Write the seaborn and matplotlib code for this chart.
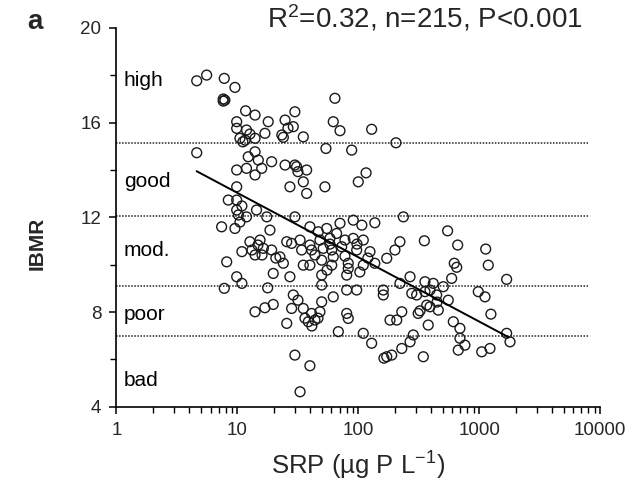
import matplotlib
matplotlib.use('Agg')
import matplotlib.pyplot as plt
import seaborn as sns
import pandas as pd
from matplotlib.ticker import FixedLocator, NullFormatter, LogLocator

# ---- data ----
srp = [
    4.61, 5.57, 7.79, 9.55, 7.64, 7.64, 7.89, 11.7, 14.0, 9.87, 18.0, 9.87, 11.9, 16.9, 24.8, 29.9,
    29.0, 23.3, 24.0, 10.5, 11.6, 14.0, 11.1, 4.61, 14.0, 12.3, 14.9, 19.2, 24.8, 29.9, 9.87, 11.9,
    15.9, 14.0, 9.87, 27.2, 31.7, 35.1,
    8.41, 9.87, 9.87, 11.9, 10.2, 14.4, 17.5, 29.9, 7.41, 9.55, 18.6, 12.7, 15.4, 16.4, 10.9, 14.0,
    19.2, 25.6, 28.1, 8.16, 22.5, 24.0, 19.8, 27.2, 9.87, 10.9, 7.79, 17.8, 29.0, 14.0, 16.9, 19.8,
    28.1, 25.6, 31.7,
    64.1, 62.1, 70.6, 129, 54.0, 88.2, 205, 30.9, 37.4, 35.1, 37.4, 53.0, 100, 116, 39.8, 46.7,
    70.6, 90.9, 107, 137, 54.8, 66.2,
    236, 33.0, 39.8, 48.2, 58.3, 77.6, 90.9, 110, 221, 34.0, 41.1, 51.3, 60.3, 72.9, 97.0, 125,
    201, 172, 35.1, 39.8, 49.8, 62.1, 82.6, 110, 137, 60.3, 49.8, 80.2, 82.6, 268, 221, 49.8,
    80.2, 97.0, 161, 161, 277, 49.8, 62.1, 35.1, 41.1, 48.2, 38.6, 43.8, 80.2, 82.6, 183, 208,
    229, 68.4, 110, 129,
    29.9, 39.8, 33.0, 172, 189, 163,
    548, 352, 664, 1132, 1189, 622, 652, 592, 1687, 356, 417, 505, 304, 356, 445, 983,
    1117, 555, 368, 392, 313, 459, 1250, 611, 379, 693, 285, 268, 693, 762, 671, 1050,
    1228, 1687, 1799, 345, 229, 324,
    46.4, 41.3, 36.2, 14.8, 13.2, 16.0, 10.5, 58.3, 97.5, 77.6, 120, 43.8, 448, 392, 10.9, 12.7,
    26.2, 55.1, 103, 20.8,
]
ibmr = [
    17.77, 18.01, 17.87, 17.49, 17.00, 16.91, 16.95, 16.50, 16.32, 16.04, 16.04, 15.76, 15.69, 15.55, 16.11, 16.46,
    15.83, 15.48, 15.38, 15.34, 15.26, 15.34, 15.19, 14.73, 14.77, 14.56, 14.42, 14.35, 14.21, 14.21, 14.00, 14.07,
    14.07, 13.79, 13.29, 13.29, 13.93, 15.40,
    12.73, 12.73, 12.31, 12.02, 12.10, 12.31, 12.02, 12.02, 11.60, 11.53, 11.46, 10.97, 11.04, 10.69, 10.55, 10.41,
    10.62, 10.97, 10.90, 10.12, 10.33, 10.06, 9.63, 9.49, 9.49, 9.21, 9.00, 9.02, 8.72, 8.01, 8.18, 8.32,
    8.15, 7.52, 8.50,
    17.03, 16.04, 15.66, 15.72, 14.91, 14.84, 15.15, 14.14, 14.00, 13.50, 13.01, 13.29, 13.50, 13.88, 11.60, 11.39,
    11.75, 11.88, 11.67, 11.77, 11.53, 11.32,
    12.02, 11.04, 10.83, 11.04, 11.11, 11.04, 11.11, 11.04, 10.97, 10.62, 10.62, 10.69, 10.62, 10.76, 10.62, 10.55,
    10.62, 10.27, 9.98, 9.98, 10.19, 10.33, 10.06, 9.98, 10.06, 9.98, 9.56, 9.56, 9.84, 9.49, 9.21, 9.14,
    8.93, 8.93, 8.93, 8.72, 8.79, 8.43, 8.64, 8.15, 7.94, 8.01, 7.59, 7.66, 7.94, 7.73, 7.66, 7.66,
    8.01, 7.17, 7.10, 6.68,
    6.18, 5.73, 4.63, 6.11, 6.18, 6.05,
    11.43, 11.01, 10.83, 10.66, 9.98, 10.06, 9.89, 9.42, 9.38, 9.28, 9.21, 9.07, 8.72, 8.86, 8.72, 8.86,
    8.64, 8.50, 8.29, 8.22, 7.94, 8.08, 7.91, 7.59, 7.45, 7.31, 7.03, 6.74, 6.89, 6.60, 6.39, 6.32,
    6.46, 7.10, 6.74, 6.11, 6.46, 8.05,
    7.74, 7.41, 7.74, 10.83, 10.62, 10.41, 11.80, 10.87, 10.87, 10.36, 10.28, 10.41, 8.42, 8.93, 12.48, 15.52,
    15.77, 9.77, 9.69, 10.28,
]
fit_srp = [4.6, 1730]
fit_ibmr = [13.95, 6.95]
class_limits = [15.15, 12.05, 9.1, 7.0]
class_names = ['high', 'good', 'mod.', 'poor', 'bad']
class_label_y = [17.8, 13.5, 10.6, 7.9, 5.1]
x_ticks = [1, 10, 100, 1000, 10000]
x_tick_labels = ['1', '10', '100', '1000', '10000']
y_ticks = [4, 8, 12, 16, 20]
y_minor = [6, 10, 14, 18]

sns.set_style('ticks')
plt.rcParams['font.family'] = ['Liberation Sans', 'DejaVu Sans']
plt.rcParams['mathtext.fontset'] = 'custom'
plt.rcParams['mathtext.rm'] = 'Liberation Sans'

fig = plt.figure(figsize=(6.33, 4.91), dpi=100)
ax = fig.add_axes([0.184, 0.1717, 0.764, 0.7713])

df = pd.DataFrame({'SRP': srp, 'IBMR': ibmr})
sns.scatterplot(data=df, x='SRP', y='IBMR', ax=ax, marker='o', s=50,
                facecolors='none', edgecolor='#1a1a1a', linewidth=1.0, zorder=3)
sns.lineplot(x=fit_srp, y=fit_ibmr, ax=ax, color='black', linewidth=1.4, zorder=4)

for yl in class_limits:
    ax.plot([1, 8000], [yl, yl], color='#222222', linewidth=1.1, linestyle=(0, (1, 1.0)), zorder=2)
for name, yy in zip(class_names, class_label_y):
    ax.text(1.15, yy, name, va='center', ha='left', fontsize=15, color='black')

ax.set_xscale('log')
ax.set_xlim(1, 10000)
ax.set_ylim(4, 20)
ax.xaxis.set_major_locator(FixedLocator(x_ticks))
ax.set_xticklabels(x_tick_labels)
ax.xaxis.set_minor_locator(LogLocator(base=10, subs=range(2, 10), numticks=20))
ax.xaxis.set_minor_formatter(NullFormatter())
ax.yaxis.set_major_locator(FixedLocator(y_ticks))
ax.yaxis.set_minor_locator(FixedLocator(y_minor))

sns.despine(ax=ax)
for sp in ['left', 'bottom']:
    ax.spines[sp].set_linewidth(1.2)
    ax.spines[sp].set_color('black')
ax.tick_params(axis='both', which='major', direction='out', length=5, width=1.1, color='black',
               labelsize=13.5, pad=6)
ax.tick_params(axis='both', which='minor', direction='out', length=4, width=1.0, color='black')

ax.set_xlabel('SRP (\u00b5g P L$\\mathregular{^{-1}}$)', fontsize=18.5, labelpad=8)
ax.set_ylabel('IBMR', fontsize=15, fontweight='bold')
ax.yaxis.set_label_coords(-0.145, 0.43)

fig.text(0.921, 0.963, 'R$\\mathregular{^{2}}$=0.32, n=215, P<0.001', ha='right', va='center', fontsize=20)
fig.text(0.043, 0.955, 'a', ha='left', va='center', fontsize=20, fontweight='bold')

fig.savefig('out.png', dpi=100)
